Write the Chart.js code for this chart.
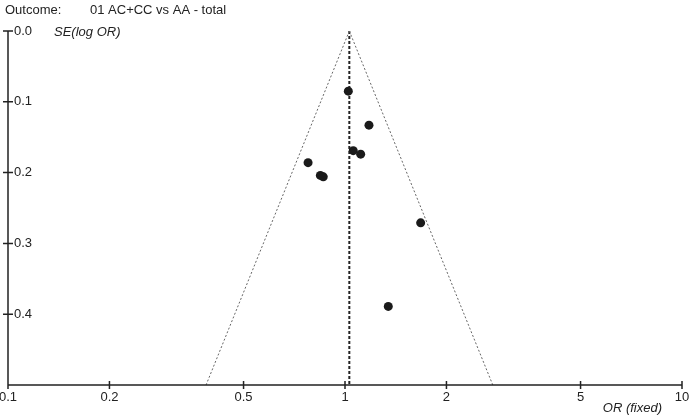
<!DOCTYPE html>
<html>
<head>
<meta charset="utf-8">
<script src="https://cdn.jsdelivr.net/npm/chart.js@4.4.1/dist/chart.umd.min.js"></script>
<style>
  html, body { margin: 0; padding: 0; background: #fff; }
  #wrap { width: 689px; height: 415px; position: relative; }
</style>
</head>
<body>
<div id="wrap"><canvas id="funnel"></canvas></div>
<script>
// study estimates
const studyOR = [1.023, 1.178, 1.058, 1.113, 0.777, 0.845, 0.862, 1.677, 1.344];
const studySE = [0.085, 0.133, 0.169, 0.174, 0.186, 0.204, 0.206, 0.271, 0.389];

// pooled (fixed) OR and the funnel limits at SE = 0 and SE = 0.5
const pooledOR = 1.03;
const funnelSE = [0, 0.5];
const funnelLeftOR = [1.03, 0.387];
const funnelRightOR = [1.03, 2.745];

const xTicks = [0.1, 0.2, 0.5, 1, 2, 5, 10];
const xTickLabels = ['0.1', '0.2', '0.5', '1', '2', '5', '10'];
const yTicks = [0, 0.1, 0.2, 0.3, 0.4];
const yTickLabels = ['0.0', '0.1', '0.2', '0.3', '0.4'];

const FONT = "'Liberation Sans', Arial, sans-serif";
const INK = '#222';

const axesPlugin = {
  id: 'axesPlugin',
  afterDraw(chart) {
    const { ctx, chartArea: a, scales: { x, y } } = chart;
    ctx.save();
    ctx.strokeStyle = INK;
    ctx.lineWidth = 1.5;
    ctx.beginPath();
    ctx.moveTo(a.left, a.top);
    ctx.lineTo(a.left, a.bottom);
    ctx.lineTo(a.right, a.bottom);
    yTicks.forEach(v => {
      const py = y.getPixelForValue(v);
      ctx.moveTo(a.left - 5, py);
      ctx.lineTo(a.left + 5, py);
    });
    xTicks.forEach(v => {
      const px = x.getPixelForValue(v);
      ctx.moveTo(px, a.bottom - 4);
      ctx.lineTo(px, a.bottom + 4);
    });
    ctx.stroke();

    ctx.fillStyle = INK;
    ctx.font = '13px ' + FONT;
    ctx.textBaseline = 'middle';
    ctx.textAlign = 'left';
    ctx.fillText('Outcome:', 5, 10);
    ctx.fillText('01 AC+CC vs AA - total', 90, 10);
    ctx.font = 'italic 13px ' + FONT;
    ctx.fillText('SE(log OR)', 54, 32);
    ctx.textAlign = 'right';
    ctx.fillText('OR (fixed)', 662, 408);
    ctx.restore();
  }
};

new Chart(document.getElementById('funnel'), {
  type: 'scatter',
  data: {
    datasets: [
      {
        label: 'Studies',
        data: studyOR.map((v, i) => ({ x: v, y: studySE[i] })),
        backgroundColor: '#1a1a1a',
        borderWidth: 0,
        pointRadius: 4.5,
        pointHoverRadius: 4.5
      },
      {
        type: 'line',
        data: funnelSE.map((s, i) => ({ x: funnelLeftOR[i], y: s })),
        borderColor: '#666',
        borderWidth: 1,
        borderDash: [2, 2],
        pointRadius: 0,
        fill: false
      },
      {
        type: 'line',
        data: funnelSE.map((s, i) => ({ x: funnelRightOR[i], y: s })),
        borderColor: '#666',
        borderWidth: 1,
        borderDash: [2, 2],
        pointRadius: 0,
        fill: false
      },
      {
        type: 'line',
        data: funnelSE.map(s => ({ x: pooledOR, y: s })),
        borderColor: INK,
        borderWidth: 2,
        borderDash: [3, 2],
        pointRadius: 0,
        fill: false
      }
    ]
  },
  options: {
    responsive: true,
    maintainAspectRatio: false,
    animation: false,
    layout: { padding: { left: 8, right: 7, top: 31, bottom: 0 } },
    plugins: { legend: { display: false }, tooltip: { enabled: false } },
    scales: {
      x: {
        type: 'logarithmic',
        min: 0.1,
        max: 10,
        afterBuildTicks: s => { s.ticks = xTicks.map(v => ({ value: v })); },
        afterFit: s => { s.height = 30; s.paddingLeft = 0; s.paddingRight = 0; },
        grid: { display: false, drawTicks: false },
        border: { display: false },
        ticks: {
          padding: 5,
          color: INK,
          font: { family: FONT, size: 13 },
          maxRotation: 0,
          autoSkip: false,
          callback: (v, i) => xTickLabels[i]
        }
      },
      y: {
        type: 'linear',
        reverse: true,
        min: 0,
        max: 0.5,
        afterBuildTicks: s => { s.ticks = yTicks.map(v => ({ value: v })); },
        afterFit: s => { s.width = 0; s.paddingTop = 0; s.paddingBottom = 0; },
        grid: { display: false, drawTicks: false },
        border: { display: false },
        ticks: {
          mirror: true,
          padding: 6,
          color: INK,
          font: { family: FONT, size: 13 },
          autoSkip: false,
          callback: (v, i) => yTickLabels[i]
        }
      }
    }
  },
  plugins: [axesPlugin]
});
</script>
</body>
</html>
